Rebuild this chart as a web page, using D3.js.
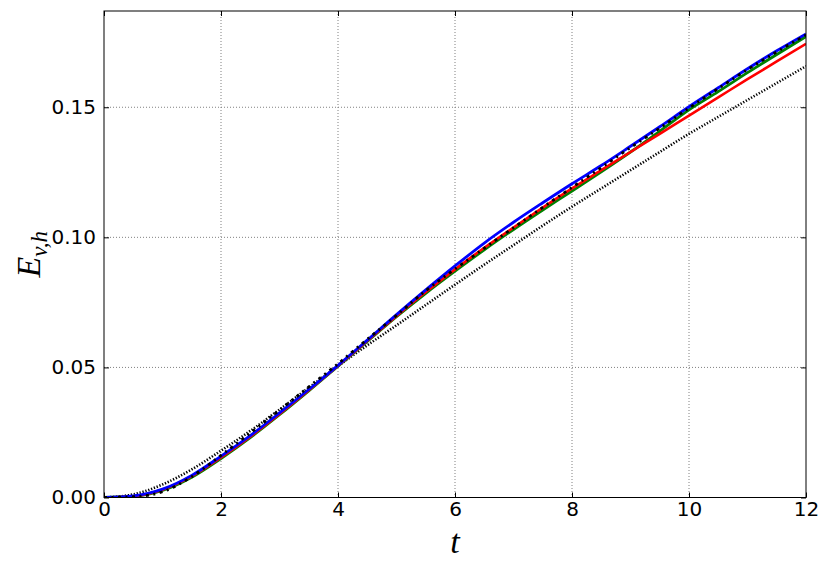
<!DOCTYPE html>
<html>
<head>
<meta charset="utf-8">
<script src="https://cdn.jsdelivr.net/npm/d3@7"></script>
<style>
  html, body { margin: 0; padding: 0; background: #fff; }
  svg { display: block; }
</style>
</head>
<body>
<svg id="chart" width="830" height="570"></svg>
<script>
// ---- data ----
const tValues = [0, 0.5, 1, 1.5, 2, 2.5, 3, 3.5, 4, 4.5, 5, 5.5, 6, 6.5, 7, 7.5, 8, 8.5, 9, 9.5, 10, 10.5, 11, 11.5, 12];
const blueSeries = [0, 0.0006, 0.0032, 0.0085, 0.0159, 0.0238, 0.0325, 0.0415, 0.0508, 0.0605, 0.0703, 0.0798, 0.0890, 0.0978, 0.1058, 0.1133, 0.1206, 0.1276, 0.1350, 0.1425, 0.1502, 0.1575, 0.1648, 0.1717, 0.1782];
const greenSeries = [0, 0.0004, 0.0027, 0.0078, 0.0150, 0.0230, 0.0318, 0.0410, 0.0505, 0.0600, 0.0695, 0.0785, 0.0870, 0.0952, 0.1030, 0.1105, 0.1178, 0.1252, 0.1328, 0.1408, 0.1490, 0.1560, 0.1633, 0.1703, 0.1772];
const redSeries = [0, 0.0005, 0.0030, 0.0082, 0.0154, 0.0234, 0.0321, 0.0412, 0.0506, 0.0602, 0.0698, 0.0790, 0.0877, 0.0960, 0.1038, 0.1114, 0.1188, 0.1258, 0.1328, 0.1398, 0.1468, 0.1538, 0.1608, 0.1676, 0.1744];
const dashDotSeries = [0, 0.0003, 0.0022, 0.0080, 0.0162, 0.0248, 0.0336, 0.0425, 0.0514, 0.0608, 0.0700, 0.0795, 0.0878, 0.0958, 0.1037, 0.1115, 0.1192, 0.1268, 0.1345, 0.1420, 0.1497, 0.1572, 0.1645, 0.1713, 0.1778];
const dottedSeries = [0, 0.0012, 0.0050, 0.0108, 0.0180, 0.0256, 0.0338, 0.0422, 0.0505, 0.0585, 0.0662, 0.0740, 0.0818, 0.0895, 0.0970, 0.1045, 0.1118, 0.1188, 0.1258, 0.1328, 0.1398, 0.1463, 0.1528, 0.1593, 0.1658];
const xTicks = [0, 2, 4, 6, 8, 10, 12];
const yTicks = [0, 0.05, 0.10, 0.15];
const yTickLabels = ["0.00", "0.05", "0.10", "0.15"];
const xDomain = [0, 12];
const yDomain = [0, 0.187];

// ---- layout ----
const L = 104, R = 806, T = 11, B = 497.5;
const svg = d3.select("#chart");
const x = d3.scaleLinear().domain(xDomain).range([L, R]);
const y = d3.scaleLinear().domain(yDomain).range([B, T]);

// grid
const grid = svg.append("g");
grid.selectAll("line.gx").data(xTicks.slice(1, -1)).join("line")
  .attr("x1", d => x(d)).attr("x2", d => x(d)).attr("y1", T).attr("y2", B)
  .attr("stroke", "#808080").attr("stroke-width", 1).attr("stroke-dasharray", "1,2");
grid.selectAll("line.gy").data(yTicks.slice(1)).join("line")
  .attr("y1", d => y(d)).attr("y2", d => y(d)).attr("x1", L).attr("x2", R)
  .attr("stroke", "#808080").attr("stroke-width", 1).attr("stroke-dasharray", "1,2");

// lines
const mk = arr => tValues.map((t, i) => [t, arr[i]]);
const line = d3.line().x(d => x(d[0])).y(d => y(d[1])).curve(d3.curveMonotoneX);
svg.append("clipPath").attr("id", "c").append("rect")
  .attr("x", L).attr("y", T).attr("width", R - L).attr("height", B - T);
const plot = svg.append("g").attr("clip-path", "url(#c)");
const series = [
  { data: dottedSeries, color: "#000", w: 2.6, dash: "1.3,1.7" },
  { data: greenSeries, color: "#008000", w: 2.8, dash: null },
  { data: redSeries, color: "#ff0000", w: 2.6, dash: null },
  { data: blueSeries, color: "#0000ff", w: 2.8, dash: null },
  { data: dashDotSeries, color: "#000", w: 2.8, dash: "3,4.5,2,4.5" }
];
series.forEach(s => {
  plot.append("path").datum(mk(s.data))
    .attr("d", line).attr("fill", "none")
    .attr("stroke", s.color).attr("stroke-width", s.w)
    .attr("stroke-dasharray", s.dash);
});

// axes with inward ticks on all sides
const axB = d3.axisBottom(x).tickValues(xTicks).tickSize(-5).tickPadding(4).tickFormat(d3.format("d"));
const axT = d3.axisTop(x).tickValues(xTicks).tickSize(-5).tickFormat("");
const axLf = d3.axisLeft(y).tickValues(yTicks).tickSize(-5).tickPadding(8).tickFormat((d, i) => yTickLabels[i]);
const axRt = d3.axisRight(y).tickValues(yTicks).tickSize(-5).tickFormat("");
const style = g => {
  g.select(".domain").remove();
  g.selectAll(".tick line").attr("stroke", "#000").attr("stroke-width", 1);
  g.selectAll(".tick text").attr("font-family", "DejaVu Sans").attr("font-size", 20).attr("fill", "#000");
};
svg.append("g").attr("transform", `translate(0,${B})`).call(axB).call(style);
svg.append("g").attr("transform", `translate(0,${T})`).call(axT).call(style);
svg.append("g").attr("transform", `translate(${L},0)`).call(axLf).call(style);
svg.append("g").attr("transform", `translate(${R},0)`).call(axRt).call(style);

// frame
svg.append("rect").attr("x", L).attr("y", T).attr("width", R - L).attr("height", B - T)
  .attr("fill", "none").attr("stroke", "#000").attr("stroke-width", 1);

// axis labels
svg.append("text").attr("x", (L + R) / 2).attr("y", 553)
  .attr("text-anchor", "middle").attr("font-family", "Liberation Serif")
  .attr("font-style", "italic").attr("font-size", 34).text("t");
const yl = svg.append("text").attr("transform", `translate(40,${(T + B) / 2}) rotate(-90)`)
  .attr("text-anchor", "middle").attr("font-family", "Liberation Serif")
  .attr("font-style", "italic").attr("font-size", 34);
yl.append("tspan").text("E");
yl.append("tspan").attr("font-size", 23).attr("dy", 7).text("v,h");
</script>
</body>
</html>
